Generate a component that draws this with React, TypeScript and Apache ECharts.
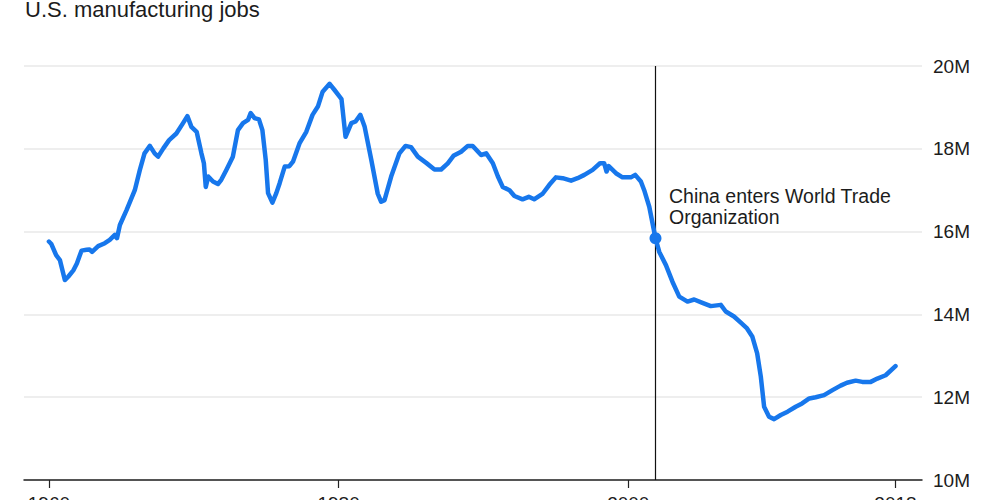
import React, { useEffect, useRef } from "react";
import * as echarts from "echarts";

// U.S. manufacturing employment, millions of jobs (fractional year, value)
const years: number[] = [
  1960.0, 1960.17, 1960.5, 1960.76, 1961.1, 1961.33, 1961.7, 1961.93, 1962.25, 1962.6,
  1962.8, 1962.98, 1963.4, 1963.86, 1964.2, 1964.55, 1964.7, 1964.9, 1965.36, 1965.93,
  1966.28, 1966.6, 1966.97, 1967.3, 1967.54, 1967.9, 1968.3, 1968.8, 1969.26, 1969.56,
  1969.84, 1970.2, 1970.53, 1970.7, 1970.83, 1971.0, 1971.33, 1971.67, 1971.9, 1972.25,
  1972.7, 1973.05, 1973.4, 1973.75, 1973.93, 1974.2, 1974.5, 1974.74, 1974.97, 1975.13,
  1975.43, 1975.7, 1975.93, 1976.28, 1976.6, 1976.85, 1977.3, 1977.77, 1978.2, 1978.57,
  1978.9, 1979.38, 1979.72, 1980.07, 1980.2, 1980.48, 1980.88, 1981.17, 1981.5, 1981.8,
  1982.26, 1982.7, 1982.94, 1983.17, 1983.63, 1984.2, 1984.62, 1985.0, 1985.47, 1986.05,
  1986.62, 1987.08, 1987.54, 1987.93, 1988.46, 1988.92, 1989.26, 1989.84, 1990.19, 1990.65,
  1991.0, 1991.33, 1991.8, 1992.14, 1992.7, 1993.13, 1993.5, 1994.1, 1994.55, 1995.0,
  1995.47, 1996.05, 1996.5, 1996.97, 1997.54, 1998.05, 1998.34, 1998.5, 1998.65, 1999.15,
  1999.6, 2000.18, 2000.48, 2000.87, 2001.1, 2001.45, 2001.88, 2002.14, 2002.6, 2003.05,
  2003.52, 2004.09, 2004.55, 2005.12, 2005.7, 2006.39, 2006.73, 2007.3, 2007.77, 2008.2,
  2008.57, 2008.9, 2009.15, 2009.38, 2009.72, 2010.07, 2010.53, 2011.0, 2011.56, 2012.0,
  2012.5, 2012.94, 2013.52, 2014.1, 2014.66, 2015.1, 2015.7, 2016.16, 2016.74, 2017.2,
  2017.77, 2018.45,
];

const jobs: number[] = [
  15.76, 15.7, 15.43, 15.31, 14.83, 14.91, 15.07, 15.23, 15.54, 15.56,
  15.57, 15.51, 15.65, 15.72, 15.8, 15.92, 15.84, 16.16, 16.52, 17.0,
  17.49, 17.89, 18.07, 17.89, 17.81, 18.01, 18.21, 18.37, 18.62, 18.79,
  18.53, 18.41, 17.89, 17.65, 17.08, 17.33, 17.21, 17.15, 17.25, 17.49,
  17.81, 18.45, 18.62, 18.7, 18.86, 18.74, 18.71, 18.45, 17.73, 16.93,
  16.7, 16.93, 17.17, 17.57, 17.58, 17.69, 18.13, 18.41, 18.82, 19.02,
  19.38, 19.57, 19.42, 19.26, 19.2, 18.29, 18.62, 18.66, 18.82, 18.53,
  17.73, 16.92, 16.72, 16.76, 17.33, 17.89, 18.07, 18.04, 17.81, 17.66,
  17.5, 17.5, 17.65, 17.83, 17.93, 18.07, 18.07, 17.85, 17.89, 17.65,
  17.33, 17.08, 17.0, 16.86, 16.78, 16.84, 16.78, 16.92, 17.13, 17.31,
  17.29, 17.23, 17.29, 17.37, 17.49, 17.65, 17.65, 17.45, 17.58, 17.41,
  17.31, 17.31, 17.37, 17.21, 17.0, 16.6, 15.84, 15.51, 15.19, 14.79,
  14.43, 14.31, 14.36, 14.28, 14.2, 14.23, 14.07, 13.95, 13.8, 13.66,
  13.46, 13.06, 12.5, 11.77, 11.53, 11.47, 11.57, 11.65, 11.77, 11.85,
  11.97, 12.0, 12.05, 12.17, 12.28, 12.35, 12.4, 12.37, 12.37, 12.45,
  12.53, 12.75,
];

// Tick positions on the time axis and their labels
const xTicks: number[] = [1960, 1980, 2000, 2018.45];
const xTickLabels: string[] = ["1960", "1980", "2000", "2018"];
const yTicks: number[] = [10, 12, 14, 16, 18, 20];

// China joins the WTO (December 2001)
const eventYear = 2001.88;
const eventValue = 15.84;
const eventLabel = "China enters World Trade\nOrganization";
const title = "U.S. manufacturing jobs";

const FONT = "'Liberation Sans', Arial, Helvetica, sans-serif";
const BLUE = "#1777ec";
const TEXT = "#1c1c1c";

export default function App() {
  const ref = useRef<HTMLDivElement>(null);

  useEffect(() => {
    if (!ref.current) return;
    const chart = echarts.init(ref.current, undefined, { renderer: "svg" });
    const series = years.map((y, i) => [y, jobs[i]]);

    chart.setOption({
      animation: false,
      backgroundColor: "#ffffff",
      textStyle: { fontFamily: FONT },
      grid: {
        left: 24,
        right: 78,
        top: 66,
        bottom: 20,
        containLabel: false,
        outerBoundsMode: "none",
      },
      xAxis: {
        type: "value",
        min: 1958.28,
        max: 2020.28,
        axisLine: { show: true, lineStyle: { color: "#222", width: 1.5 } },
        axisTick: {
          show: true,
          customValues: xTicks,
          length: 8,
          lineStyle: { color: "#222", width: 1.2 },
        },
        axisLabel: {
          customValues: xTicks,
          formatter: (v: number) => xTickLabels[xTicks.indexOf(v)] ?? "",
          color: TEXT,
          fontSize: 19,
          fontFamily: FONT,
          margin: 14,
        },
        splitLine: { show: false },
      },
      yAxis: {
        type: "value",
        position: "right",
        min: 10,
        max: 20,
        interval: 2,
        axisLine: { show: false },
        axisTick: { show: false },
        axisLabel: {
          formatter: (v: number) => (yTicks.includes(v) ? `${v}M` : ""),
          color: TEXT,
          fontSize: 19,
          fontFamily: FONT,
          margin: 11,
        },
        splitLine: { show: true, lineStyle: { color: "#e8e8e8", width: 1.5 } },
      },
      graphic: [
        {
          type: "text",
          left: 25,
          top: -2,
          style: { text: title, fontSize: 22, fontFamily: FONT, fill: TEXT },
        },
        {
          type: "text",
          left: 669,
          top: 185,
          style: {
            text: eventLabel,
            fontSize: 19.5,
            lineHeight: 21,
            fontFamily: FONT,
            fill: TEXT,
          },
        },
      ],
      series: [
        {
          type: "line",
          data: series,
          showSymbol: false,
          symbol: "none",
          lineStyle: { color: BLUE, width: 4.5, join: "round", cap: "round" },
          z: 3,
          markLine: {
            silent: true,
            symbol: ["none", "none"],
            label: { show: false },
            lineStyle: { color: "#111", width: 1.2, type: "solid" },
            data: [[{ coord: [eventYear, 20] }, { coord: [eventYear, 10] }]],
            z: 2,
          },
        },
        {
          type: "scatter",
          data: [[eventYear, eventValue]],
          symbol: "circle",
          symbolSize: 12,
          itemStyle: { color: BLUE, opacity: 1 },
          z: 4,
        },
      ],
    });

    return () => chart.dispose();
  }, []);

  return (
    <div
      ref={ref}
      style={{ position: "fixed", left: 0, top: 0, width: 1000, height: 500 }}
    />
  );
}
